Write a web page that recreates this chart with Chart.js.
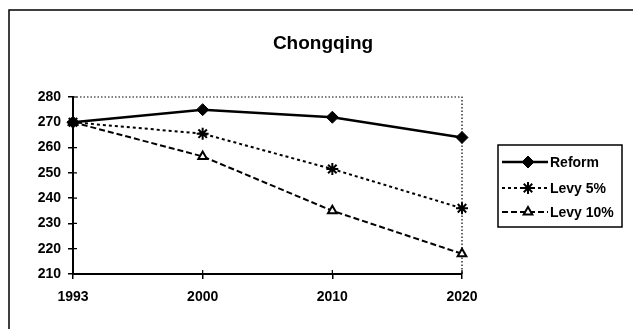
<!DOCTYPE html>
<html>
<head>
<meta charset="utf-8">
<script src="https://cdn.jsdelivr.net/npm/chart.js@4.4.1/dist/chart.umd.min.js"></script>
<style>
  html, body { margin: 0; padding: 0; background: #fff; }
  #wrap { width: 633px; height: 329px; }
</style>
</head>
<body>
<div id="wrap"><canvas id="chongqingChart" width="633" height="329"></canvas></div>
<script>
// data
var years = ['1993', '2000', '2010', '2020'];
var reform = [270, 275, 272, 264];
var levy5 = [270, 265.5, 251.5, 236];
var levy10 = [270, 256.5, 235, 218];
var yMin = 210, yMax = 280, yStep = 10;

var FONT = "'Liberation Sans', Arial, sans-serif";

// outer frame + title
var framePlugin = {
    id: 'frame',
    beforeDraw: function (chart) {
        var c = chart.ctx;
        c.save();
        c.fillStyle = '#fff';
        c.fillRect(0, 0, chart.width, chart.height);
        c.strokeStyle = '#000';
        c.lineWidth = 1.5;
        c.beginPath();
        c.moveTo(9, 329);
        c.lineTo(9, 10);
        c.lineTo(633, 10);
        c.stroke();
        c.fillStyle = '#000';
        c.font = 'bold 19px ' + FONT;
        c.textAlign = 'center';
        c.textBaseline = 'middle';
        c.fillText('Chongqing', 323, 44);
        c.restore();
    },
    // dotted top/right edge of plot area, ticks poking inside
    beforeDatasetsDraw: function (chart) {
        var a = chart.chartArea, c = chart.ctx;
        c.save();
        c.strokeStyle = '#000';
        c.lineWidth = 1.2;
        c.setLineDash([1.5, 2]);
        c.beginPath();
        c.moveTo(a.left, a.top);
        c.lineTo(a.right, a.top);
        c.lineTo(a.right, a.bottom);
        c.stroke();
        c.setLineDash([]);
        c.beginPath();
        chart.scales.y.ticks.forEach(function (t, i) {
            var y = chart.scales.y.getPixelForTick(i);
            c.moveTo(a.left, y);
            c.lineTo(a.left + 4, y);
        });
        chart.scales.x.ticks.forEach(function (t, i) {
            var x = chart.scales.x.getPixelForTick(i);
            c.moveTo(x, a.bottom);
            c.lineTo(x, a.bottom - 4);
        });
        c.stroke();
        c.restore();
    }
};

// boxed legend on the right
var legendPlugin = {
    id: 'boxLegend',
    afterDraw: function (chart) {
        var c = chart.ctx;
        var x0 = 498, y0 = 145, w = 124, h = 82;
        var rows = [162, 188, 212];
        c.save();
        c.strokeStyle = '#000';
        c.lineWidth = 1.5;
        c.strokeRect(x0, y0, w, h);
        chart.data.datasets.forEach(function (ds, i) {
            var y = rows[i];
            c.strokeStyle = ds.borderColor;
            c.lineWidth = ds.borderWidth;
            c.setLineDash(ds.borderDash || []);
            c.beginPath();
            c.moveTo(502, y);
            c.lineTo(548, y);
            c.stroke();
            c.setLineDash([]);
            c.fillStyle = ds.pointBackgroundColor;
            c.strokeStyle = ds.pointBorderColor;
            c.lineWidth = ds.pointBorderWidth;
            Chart.helpers.drawPoint(c, {
                pointStyle: ds.pointStyle,
                radius: ds.pointRadius,
                borderWidth: ds.pointBorderWidth
            }, 528, y);
            c.fillStyle = '#000';
            c.font = 'bold 14px ' + FONT;
            c.textAlign = 'left';
            c.textBaseline = 'middle';
            c.fillText(ds.label, 550, y + 1);
        });
        c.restore();
    }
};

var ctx = document.getElementById('chongqingChart').getContext('2d');
var chongqingChart = new Chart(ctx, {
    type: 'line',
    data: {
        labels: years,
        datasets: [{
            label: 'Reform',
            data: reform,
            borderColor: '#000',
            borderWidth: 2.5,
            pointStyle: 'rectRot',
            pointRadius: 6,
            pointBackgroundColor: '#000',
            pointBorderColor: '#000',
            pointBorderWidth: 1,
            clip: false
        }, {
            label: 'Levy 5%',
            data: levy5,
            borderColor: '#000',
            borderWidth: 2,
            borderDash: [3, 3],
            pointStyle: 'star',
            pointRadius: 6,
            pointBackgroundColor: '#fff',
            pointBorderColor: '#000',
            pointBorderWidth: 2,
            clip: false
        }, {
            label: 'Levy 10%',
            data: levy10,
            borderColor: '#000',
            borderWidth: 2,
            borderDash: [6, 3],
            pointStyle: 'triangle',
            pointRadius: 5,
            pointBackgroundColor: '#fff',
            pointBorderColor: '#000',
            pointBorderWidth: 2,
            clip: false
        }]
    },
    options: {
        responsive: false,
        animation: false,
        events: [],
        layout: {
            padding: { left: 14, right: 171, top: 97, bottom: 15 }
        },
        scales: {
            x: {
                offset: false,
                grid: { drawOnChartArea: false, drawTicks: true, tickLength: 5, color: '#000', lineWidth: 1.5 },
                border: { color: '#000', width: 2 },
                ticks: { color: '#000', font: { family: FONT, size: 14, weight: 'bold' }, padding: 10, maxRotation: 0 },
                afterFit: function (scale) { scale.height = 40; }
            },
            y: {
                min: yMin,
                max: yMax,
                grid: { drawOnChartArea: false, drawTicks: true, tickLength: 5, color: '#000', lineWidth: 1.5 },
                border: { color: '#000', width: 2 },
                ticks: { stepSize: yStep, color: '#000', font: { family: FONT, size: 14, weight: 'bold' }, padding: 7 },
                afterFit: function (scale) { scale.width = 59; }
            }
        },
        plugins: {
            legend: { display: false },
            title: { display: false },
            tooltip: { enabled: false }
        }
    },
    plugins: [framePlugin, legendPlugin]
});
</script>
</body>
</html>
